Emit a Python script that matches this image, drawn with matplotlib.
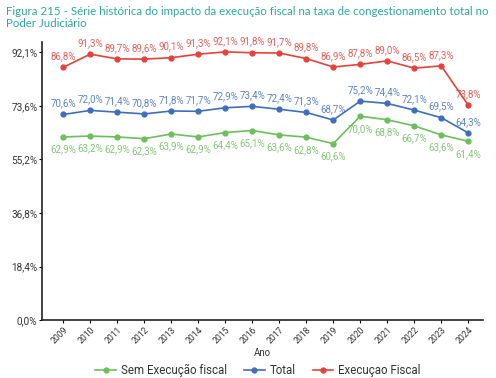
import matplotlib.pyplot as plt
from matplotlib.ticker import FixedLocator

anos = list(range(2009, 2025))
execucao_fiscal = [86.8, 91.3, 89.7, 89.6, 90.1, 91.3, 92.1, 91.8, 91.7, 89.8, 86.9, 87.8, 89.0, 86.5, 87.3, 73.8]
total = [70.6, 72.0, 71.4, 70.8, 71.8, 71.7, 72.9, 73.4, 72.4, 71.3, 68.7, 75.2, 74.4, 72.1, 69.5, 64.3]
sem_execucao = [62.9, 63.2, 62.9, 62.3, 63.9, 62.9, 64.4, 65.1, 63.6, 62.8, 60.6, 70.0, 68.8, 66.7, 63.6, 61.4]
y_ticks = [0.0, 18.4, 36.8, 55.2, 73.6, 92.1]

verde = "#6cbf5c"
azul = "#3e6fbf"
vermelho = "#e8413a"

plt.rcParams['font.family'] = ['Roboto', 'DejaVu Sans']

fig = plt.figure(figsize=(4.96, 3.78), dpi=100)
ax = fig.add_axes([0.085, 0.153, 0.889, 0.736])

series = [
    ("Sem Execução fiscal", sem_execucao, verde, -9),
    ("Total", total, azul, 8),
    ("Execuçao Fiscal", execucao_fiscal, vermelho, 8),
]
for nome, vals, cor, dy in series:
    ax.plot(anos, vals, color=cor, lw=1.2, marker="o", ms=3.5, label=nome)
    for x, v in zip(anos, vals):
        ax.annotate(f"{v:.1f}%".replace(".", ","), (x, v), xytext=(0, dy),
                    textcoords="offset points", ha="center", va="center",
                    fontsize=7, color=cor, alpha=0.85)

ax.set_xlim(2008.22, 2024.55)
ax.set_ylim(0, 95.5)
ax.yaxis.set_major_locator(FixedLocator(y_ticks))
ax.set_yticklabels([f"{t:.1f}%".replace(".", ",") for t in y_ticks], fontsize=7.2, color="#333333")
ax.set_xticks(anos)
ax.set_xticklabels([str(a) for a in anos], rotation=45, ha="right", rotation_mode="anchor",
                   fontsize=6.2, color="#333333")
ax.tick_params(axis="both", length=2, width=0.8, pad=1.5)
ax.set_xlabel("Ano", fontsize=7, color="#333333", labelpad=2)

for s in ["top", "right"]:
    ax.spines[s].set_visible(False)
for s in ["left", "bottom"]:
    ax.spines[s].set_linewidth(1.2)
    ax.spines[s].set_color("#222222")

fig.legend(loc="lower center", bbox_to_anchor=(0.52, -0.025), ncol=3, frameon=False,
           fontsize=8.3, handlelength=1.8, columnspacing=1.5, handletextpad=0.4,
           labelcolor="#333333")

fig.text(0.012, 0.985, "Figura 215 - Série histórica do impacto da execução fiscal na taxa de congestionamento total no\nPoder Judiciário",
         ha="left", va="top", fontsize=8.3, color="#2aa8a0", family=["Lato", "DejaVu Sans"],
         linespacing=1.15)

fig.savefig("out.png", dpi=100)
